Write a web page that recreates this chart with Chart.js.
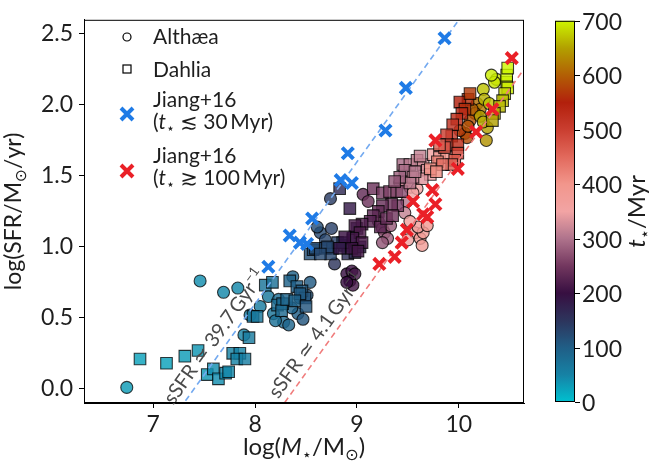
<!DOCTYPE html>
<html>
<head>
<meta charset="utf-8">
<script src="https://cdn.jsdelivr.net/npm/chart.js@4.4.0/dist/chart.umd.min.js"></script>
<style>
  html, body { margin: 0; padding: 0; background: #fff; }
  #wrap { width: 650px; height: 467px; }
</style>
</head>
<body>
<div id="wrap"><canvas id="c" width="650" height="467"></canvas></div>
<script>
// ---- Althaea (circles): log stellar mass, log SFR, stellar age [Myr]
const althaeaMass = [6.74,7.46,7.69,7.83,7.89,7.95,8.05,8.13,8.18,8.28,8.33,8.42,8.47,8.37,8.54,8.51,8.44,8.23,8.36,8.20,
  8.74,8.64,8.75,8.61,8.78,8.90,8.95,8.98,8.93,8.96,8.90,8.69,
  9.06,9.11,9.21,9.25,9.27,9.30,9.25,9.42,9.49,9.47,9.33,
  9.57,9.62,9.65,9.60,9.52,9.69,9.50,9.47,9.52,9.59,9.55,9.64,
  10.18,10.21,10.16,10.11,10.06,10.08,10.01,10.09,10.13,
  10.37,10.35,10.24,10.25,10.30,10.28,10.27,10.21,10.24,10.32];
const althaeaSFR = [0.01,0.76,0.68,0.71,0.38,0.52,0.58,0.65,0.53,0.47,0.45,0.53,0.49,0.79,0.75,0.66,0.64,0.63,0.57,0.48,
  1.34,1.10,1.13,1.14,0.88,0.81,0.83,0.81,0.76,0.73,0.75,1.05,
  1.37,1.32,1.18,1.13,1.10,1.06,1.03,1.45,1.32,1.24,1.15,
  1.10,1.06,1.10,1.14,1.18,1.15,1.05,1.46,1.42,1.41,1.38,1.01,
  2.01,1.97,1.94,1.89,1.80,1.77,1.82,1.85,1.97,
  2.18,2.16,2.11,2.04,2.01,1.84,1.75,1.92,1.88,2.21];
const althaeaAge = [30,40,45,45,50,55,60,65,70,85,90,100,110,95,105,110,100,80,95,75,
  140,125,135,120,150,200,205,210,205,210,200,130,
  235,245,260,270,275,285,275,285,305,315,280,
  370,380,380,370,360,385,355,320,340,350,350,380,
  610,620,600,590,580,585,570,590,600,
  690,690,670,660,670,650,640,650,655,695];

// ---- Dahlia (squares)
const dahliaMass = [6.87,7.13,7.31,7.44,7.53,7.59,7.64,7.71,7.74,7.78,7.85,7.82,7.90,7.94,7.98,8.02,8.10,8.17,8.22,8.27,8.26,8.34,8.41,8.46,8.49,8.54,8.57,8.44,8.31,8.39,8.50,
  8.59,8.69,8.76,8.74,8.81,8.88,8.91,8.98,9.03,8.96,8.93,9.00,8.83,8.86,8.71,8.64,
  9.16,9.25,9.32,9.39,9.44,9.40,9.34,9.25,9.21,9.16,9.13,9.05,8.98,9.03,8.96,9.05,8.95,9.01,8.88,8.83,9.23,9.29,9.35,
  9.45,9.52,9.47,9.59,9.65,9.69,9.72,9.64,9.55,9.62,9.75,9.81,9.88,9.52,9.57,9.42,9.37,
  10.09,10.01,10.06,10.03,9.98,9.94,9.93,9.88,9.89,9.86,9.99,9.99,9.96,9.93,9.81,9.79,9.84,9.72,10.11,9.78,
  10.47,10.48,10.45,10.43,10.47,10.48,10.40,10.35,10.33];
const dahliaSFR = [0.21,0.18,0.23,0.27,0.10,0.14,0.07,0.11,0.12,0.25,0.25,0.21,0.21,0.36,0.51,0.51,0.73,0.75,0.59,0.60,0.55,0.76,0.72,0.69,0.64,0.95,0.98,0.67,0.63,0.62,0.58,
  0.99,0.99,0.99,0.95,1.03,1.01,0.95,0.96,1.00,1.05,1.27,1.13,1.41,1.03,1.00,0.95,
  1.41,1.38,1.39,1.39,1.39,1.29,1.30,1.29,1.25,1.22,1.18,1.16,1.15,1.10,1.06,1.03,0.99,0.97,1.07,0.99,1.14,1.20,1.22,
  1.58,1.58,1.54,1.61,1.58,1.54,1.51,1.48,1.49,1.64,1.65,1.63,1.63,1.45,1.53,1.49,1.46,
  2.04,2.02,1.97,1.94,1.90,1.86,1.78,1.79,1.72,1.70,1.72,1.66,1.61,1.58,1.72,1.60,1.58,1.55,2.08,1.53,
  2.16,2.12,2.08,2.03,2.21,2.26,1.99,1.94,1.89];
const dahliaAge = [25,25,30,35,35,40,40,45,45,50,50,50,55,60,65,65,70,75,80,85,85,95,100,105,110,115,118,105,90,95,110,
  120,125,130,130,135,145,155,165,170,160,185,165,165,140,125,125,
  245,255,260,265,270,255,245,240,235,230,225,220,215,220,210,215,205,210,200,190,230,240,250,
  295,305,295,315,325,335,345,335,315,315,355,380,400,305,305,285,275,
  560,550,560,540,530,520,510,500,490,480,530,500,470,460,460,420,440,400,570,410,
  690,695,680,670,700,705,665,655,650];

// ---- Jiang+16 observations
const jiangYoungMass = [8.13,8.34,8.44,8.51,8.56,8.84,8.95,8.91,9.28,9.48,9.86];
const jiangYoungSFR  = [0.86,1.08,1.03,1.02,1.20,1.47,1.45,1.66,1.82,2.12,2.47];
const jiangOldMass = [9.22,9.37,9.44,9.49,9.55,9.65,9.69,9.74,9.77,9.99,9.77,10.17,10.33,10.52];
const jiangOldSFR  = [0.88,0.93,1.03,1.12,1.32,1.23,1.21,1.40,1.30,1.55,1.75,1.81,1.97,2.33];

// ---- constant specific star-formation rates [Gyr^-1]
const sSFRValues = [39.7, 4.1];
const sSFRMassRange = [6.0, 11.0];

// ---- axes
const xTicks = [7, 8, 9, 10];
const yTicks = [0, 0.5, 1.0, 1.5, 2.0, 2.5];
const xRange = [6.32, 10.64];
const yRange = [-0.10, 2.60];
const ageTicks = [0, 100, 200, 300, 400, 500, 600, 700];
const ageRange = [0, 700];

// colour map for stellar age
const cmapStops = [
  [0, [0, 192, 208]], [50, [22, 130, 165]], [100, [32, 94, 134]], [150, [45, 52, 92]],
  [200, [55, 15, 65]], [250, [115, 55, 95]], [300, [175, 115, 140]], [350, [242, 164, 164]],
  [400, [242, 150, 140]], [450, [226, 105, 92]], [500, [202, 62, 48]], [550, [178, 32, 12]],
  [600, [178, 95, 5]], [650, [178, 160, 0]], [700, [205, 245, 0]]
];
function cmapRGB(v) {
  if (v <= cmapStops[0][0]) return cmapStops[0][1];
  for (let i = 1; i < cmapStops.length; i++) {
    const [v1, c1] = cmapStops[i];
    const [v0, c0] = cmapStops[i - 1];
    if (v <= v1) {
      const t = (v - v0) / (v1 - v0);
      return c0.map((c, k) => Math.round(c + (c1[k] - c) * t));
    }
  }
  return cmapStops[cmapStops.length - 1][1];
}
function cmap(v, a) {
  const c = cmapRGB(v);
  return a === undefined ? `rgb(${c[0]},${c[1]},${c[2]})` : `rgba(${c[0]},${c[1]},${c[2]},${a})`;
}

const pts = (xs, ys) => xs.map((x, i) => ({ x, y: ys[i] }));
const sSFRLine = s => sSFRMassRange.map(m => ({ x: m, y: m + Math.log10(s * 1e-9) }));

const FONT = "Lato, 'DejaVu Sans', sans-serif";
const TEXT = '#1e1e1e';
const BLUE = '#1f7be6';
const RED = '#ea2027';
const BLUE_LINE = '#74aaf0';
const RED_LINE = '#f07c7c';

// draw a sequence of text runs; style: '' normal, 'i' italic, 'sub', 'sup'
function drawRuns(ctx, runs, x, y, size, align, color) {
  const items = runs.map(([t, s]) => {
    const small = s === 'sub' || s === 'sup';
    const sz = small ? size * 0.68 : size;
    const font = (s === 'i' ? 'italic ' : '') + sz + 'px ' + FONT;
    ctx.font = font;
    return { t, font, w: ctx.measureText(t).width,
             dy: s === 'sub' ? size * 0.2 : s === 'sup' ? -size * 0.42 : 0 };
  });
  const total = items.reduce((a, b) => a + b.w, 0);
  let cx = align === 'center' ? x - total / 2 : align === 'right' ? x - total : x;
  ctx.fillStyle = color || TEXT;
  ctx.textAlign = 'left';
  ctx.textBaseline = 'alphabetic';
  for (const it of items) {
    ctx.font = it.font;
    ctx.fillText(it.t, cx, y + it.dy);
    cx += it.w;
  }
}

// labels written along the sSFR lines
const lineLabels = [
  { s: sSFRValues[0], atY: 0.31, runs: [['sSFR \u2243 39.7\u2009Gyr', ''], ['\u22121', 'sup']] },
  { s: sSFRValues[1], atY: 0.32, runs: [['sSFR \u2243 4.1\u2009Gyr', ''], ['\u22121', 'sup']] }
];

const decorations = {
  id: 'decorations',
  afterDatasetsDraw(chart) {
    const { ctx, scales: { x, y } } = chart;
    ctx.save();
    for (const L of lineLabels) {
      const off = Math.log10(L.s * 1e-9);
      const px0 = x.getPixelForValue(L.atY - off), py0 = y.getPixelForValue(L.atY);
      const px1 = x.getPixelForValue(L.atY + 1 - off), py1 = y.getPixelForValue(L.atY + 1);
      const ang = Math.atan2(py1 - py0, px1 - px0);
      ctx.save();
      ctx.translate(px0, py0);
      ctx.rotate(ang);
      drawRuns(ctx, L.runs, 0, -7, 20, 'center', '#4a4a4a');
      ctx.restore();
    }
    ctx.restore();
  },
  afterDraw(chart) {
    const { ctx } = chart;
    const a = chart.chartArea;
    ctx.save();
    // frame
    ctx.strokeStyle = '#000';
    ctx.lineWidth = 1;
    ctx.strokeRect(a.left + 0.5, a.top + 0.5, a.right - a.left - 1, a.bottom - a.top - 1);

    // axis titles
    drawRuns(ctx, [['log(', ''], ['M', 'i'], ['\u22c6', 'sub'], ['/M', ''], ['\u2299', 'sub'], [')', '']],
             (a.left + a.right) / 2, 455, 24, 'center');
    ctx.save();
    ctx.translate(21, (a.top + a.bottom) / 2);
    ctx.rotate(-Math.PI / 2);
    drawRuns(ctx, [['log(SFR/M', ''], ['\u2299', 'sub'], ['/yr)', '']], 0, 0, 23, 'center');
    ctx.restore();

    // colour bar
    const cbL = a.right + 31, cbR = a.right + 51;
    const cbT = a.top + 1, cbB = a.bottom - 1;
    const grad = ctx.createLinearGradient(0, cbB, 0, cbT);
    for (let v = ageRange[0]; v <= ageRange[1]; v += 10) {
      grad.addColorStop((v - ageRange[0]) / (ageRange[1] - ageRange[0]), cmap(v));
    }
    ctx.fillStyle = grad;
    ctx.fillRect(cbL, cbT, cbR - cbL, cbB - cbT);
    ctx.strokeStyle = '#000';
    ctx.lineWidth = 1;
    ctx.strokeRect(cbL + 0.5, cbT + 0.5, cbR - cbL - 1, cbB - cbT - 1);
    ctx.font = '23px ' + FONT;
    ctx.fillStyle = TEXT;
    ctx.textAlign = 'left';
    ctx.textBaseline = 'middle';
    for (const t of ageTicks) {
      const py = Math.round(cbB - (t - ageRange[0]) / (ageRange[1] - ageRange[0]) * (cbB - cbT)) + 0.5;
      ctx.beginPath(); ctx.moveTo(cbR, py); ctx.lineTo(cbR + 5, py); ctx.stroke();
      ctx.fillText(String(t), cbR + 7, py + 1);
    }
    ctx.save();
    ctx.translate(645, (a.top + a.bottom) / 2);
    ctx.rotate(-Math.PI / 2);
    drawRuns(ctx, [['t', 'i'], ['\u22c6', 'sub'], ['/Myr', '']], 0, 0, 24, 'center');
    ctx.restore();

    // legend
    const lx = 127;
    ctx.lineWidth = 1.2;
    ctx.strokeStyle = '#000';
    ctx.beginPath(); ctx.arc(lx, 37, 4, 0, Math.PI * 2); ctx.stroke();
    ctx.strokeRect(lx - 4, 65, 8, 8);
    const cross = (cx, cy, col) => {
      ctx.strokeStyle = col; ctx.lineWidth = 4;
      const r = 6;
      ctx.beginPath();
      ctx.moveTo(cx - r, cy - r); ctx.lineTo(cx + r, cy + r);
      ctx.moveTo(cx - r, cy + r); ctx.lineTo(cx + r, cy - r);
      ctx.stroke();
    };
    cross(lx, 114, BLUE);
    cross(lx, 171, RED);
    const tx = 153;
    drawRuns(ctx, [['Alth\u00e6a', '']], tx, 44, 21, 'left');
    drawRuns(ctx, [['Dahlia', '']], tx, 77, 21, 'left');
    drawRuns(ctx, [['Jiang+16', '']], tx, 107, 21, 'left');
    drawRuns(ctx, [['(', ''], ['t', 'i'], ['\u22c6', 'sub'], [' \u2272 30\u2009Myr)', '']], tx, 129, 21, 'left');
    drawRuns(ctx, [['Jiang+16', '']], tx, 163, 21, 'left');
    drawRuns(ctx, [['(', ''], ['t', 'i'], ['\u22c6', 'sub'], [' \u2273 100\u2009Myr)', '']], tx, 185, 21, 'left');
    ctx.restore();
  }
};

const tickFont = { family: FONT, size: 23 };

new Chart(document.getElementById('c'), {
  type: 'scatter',
  data: {
    datasets: [
      { label: 'Jiang+16 (t < 30 Myr)', data: pts(jiangYoungMass, jiangYoungSFR), order: 0,
        pointStyle: 'crossRot', pointRadius: 8, pointBorderWidth: 4,
        pointBorderColor: BLUE, pointBackgroundColor: BLUE },
      { label: 'Jiang+16 (t > 100 Myr)', data: pts(jiangOldMass, jiangOldSFR), order: 0,
        pointStyle: 'crossRot', pointRadius: 8, pointBorderWidth: 4,
        pointBorderColor: RED, pointBackgroundColor: RED },
      { type: 'line', label: 'sSFR 39.7', data: sSFRLine(sSFRValues[0]), order: 1,
        borderColor: BLUE_LINE, borderWidth: 1.6, borderDash: [6, 4], pointRadius: 0, fill: false, tension: 0 },
      { type: 'line', label: 'sSFR 4.1', data: sSFRLine(sSFRValues[1]), order: 1,
        borderColor: RED_LINE, borderWidth: 1.6, borderDash: [6, 4], pointRadius: 0, fill: false, tension: 0 },
      { label: 'Dahlia', data: pts(dahliaMass, dahliaSFR), order: 2,
        pointStyle: 'rect', pointRadius: 8.2, pointBorderWidth: 1.1,
        pointBackgroundColor: dahliaAge.map(v => cmap(v, 0.82)),
        pointBorderColor: 'rgba(0,0,0,0.75)' },
      { label: 'Alth\u00e6a', data: pts(althaeaMass, althaeaSFR), order: 2,
        pointStyle: 'circle', pointRadius: 6, pointBorderWidth: 1.1,
        pointBackgroundColor: althaeaAge.map(v => cmap(v, 0.82)),
        pointBorderColor: 'rgba(0,0,0,0.75)' }
    ]
  },
  options: {
    responsive: false,
    animation: false,
    devicePixelRatio: 1,
    events: [],
    layout: { padding: { top: 9, right: 126, left: 0, bottom: 0 } },
    plugins: { legend: { display: false }, tooltip: { enabled: false } },
    scales: {
      x: {
        type: 'linear', min: xRange[0], max: xRange[1],
        afterFit: s => { s.height = 64; },
        afterBuildTicks: s => { s.ticks = xTicks.map(v => ({ value: v })); },
        ticks: { font: tickFont, color: TEXT, padding: 3, callback: v => String(v) },
        grid: { display: true, drawOnChartArea: false, drawTicks: true, tickLength: 5, color: '#000' },
        border: { display: true, color: '#000', width: 1 }
      },
      y: {
        type: 'linear', min: yRange[0], max: yRange[1],
        afterFit: s => { s.width = 84; },
        afterBuildTicks: s => { s.ticks = yTicks.map(v => ({ value: v })); },
        ticks: { font: tickFont, color: TEXT, padding: 6, callback: v => Number(v).toFixed(1) },
        grid: { display: true, drawOnChartArea: false, drawTicks: true, tickLength: 5, color: '#000' },
        border: { display: true, color: '#000', width: 1 }
      }
    }
  },
  plugins: [decorations]
});
</script>
</body>
</html>
